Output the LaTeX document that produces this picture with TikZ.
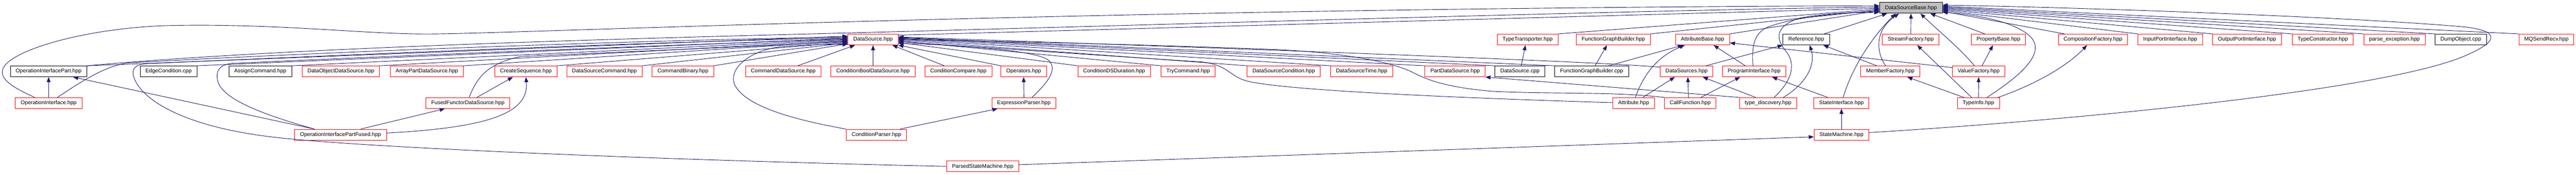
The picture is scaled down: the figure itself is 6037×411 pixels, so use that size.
\documentclass[tikz,border=0pt]{standalone}
\usepackage{fontspec}
\setmainfont{Liberation Sans}
\usetikzlibrary{calc,arrows.meta}
\definecolor{edgecol}{HTML}{191970}
\definecolor{boxred}{HTML}{FF0000}
\definecolor{dsbgray}{HTML}{BFBFBF}
\tikzset{
  box/.style={draw=boxred, line width=1.1pt, fill=white, inner xsep=12.5pt, inner ysep=0pt,
    minimum height=25.5pt, text height=9.6pt, text depth=2.7pt,
    font=\fontsize{12.8}{15}\selectfont},
  blk/.style={box, draw=black},
  root/.style={box, draw=black, fill=dsbgray},
  dep/.style={draw=edgecol, line width=1.1pt, -{Triangle[length=12pt,width=9pt]}}
}
\begin{document}
\begin{tikzpicture}[x=1pt,y=-1pt]
\fill[white] (0,0) rectangle (6037,411);
\useasboundingbox (0,0) rectangle (6037,411);
% row 0
\node[root] (dsb) at (4478.5,18.5) {DataSourceBase.hpp};
% row 1
\node[box] (dsh) at (2046,93) {DataSource.hpp};
\node[box] (tt) at (3580,93) {TypeTransporter.hpp};
\node[box] (fgbh) at (3781,93) {FunctionGraphBuilder.hpp};
\node[box] (ab) at (3990,93) {AttributeBase.hpp};
\node[blk] (ref) at (4233,93) {Reference.hpp};
\node[box] (sf) at (4478,93) {StreamFactory.hpp};
\node[box] (pb) at (4683.5,93) {PropertyBase.hpp};
\node[box] (cf) at (4905,93) {CompositionFactory.hpp};
\node[box] (ipi) at (5086,93) {InputPortInterface.hpp};
\node[box] (opi) at (5266,93) {OutputPortInterface.hpp};
\node[box] (tc) at (5443.5,93) {TypeConstructor.hpp};
\node[box] (pe) at (5611.5,93) {parse\_exception.hpp};
\node[blk] (dump) at (5767,93) {DumpObject.cpp};
\node[box] (mq) at (5967.5,93) {MQSendRecv.hpp};
% row 2
\node[blk] (oip) at (114,168) {OperationInterfacePart.hpp};
\node[blk] (ec) at (395,168) {EdgeCondition.cpp};
\node[blk] (ac) at (610,168) {AssignCommand.hpp};
\node[box] (dods) at (799,168) {DataObjectDataSource.hpp};
\node[box] (apds) at (1000.5,168) {ArrayPartDataSource.hpp};
\node[box] (cs) at (1232.5,168) {CreateSequence.hpp};
\node[box] (dsc) at (1416.5,168) {DataSourceCommand.hpp};
\node[box] (cb) at (1600.5,168) {CommandBinary.hpp};
\node[box] (cds) at (1835.5,168) {CommandDataSource.hpp};
\node[box] (cbds) at (2046,168) {ConditionBoolDataSource.hpp};
\node[box] (cc) at (2246,168) {ConditionCompare.hpp};
\node[box] (ops) at (2399,168) {Operators.hpp};
\node[box] (cdsd) at (2611,168) {ConditionDSDuration.hpp};
\node[box] (tryc) at (2784.5,168) {TryCommand.hpp};
\node[box] (dscond) at (3008.5,168) {DataSourceCondition.hpp};
\node[box] (dst) at (3191,168) {DataSourceTime.hpp};
\node[box] (pds) at (3410,168) {PartDataSource.hpp};
\node[blk] (dscpp) at (3562,168) {DataSource.cpp};
\node[blk] (fgbc) at (3730,168) {FunctionGraphBuilder.cpp};
\node[box] (dss) at (3952.5,168) {DataSources.hpp};
\node[box] (pi) at (4111,168) {ProgramInterface.hpp};
\node[box] (mf) at (4430,168) {MemberFactory.hpp};
\node[box] (vf) at (4637,168) {ValueFactory.hpp};
% row 3
\node[box] (oi) at (114,242.5) {OperationInterface.hpp};
\node[box] (ffds) at (1096.5,242.5) {FusedFunctorDataSource.hpp};
\node[box] (ep) at (2399.5,242.5) {ExpressionParser.hpp};
\node[box] (attr) at (3828.5,242.5) {Attribute.hpp};
\node[box] (call) at (3961,242.5) {CallFunction.hpp};
\node[box] (td) at (4143.5,242.5) {type\_discovery.hpp};
\node[box] (si) at (4315.5,242.5) {StateInterface.hpp};
\node[box] (ti) at (4636.5,242.5) {TypeInfo.hpp};
% row 4
\node[box] (oipf) at (798,317) {OperationInterfacePartFused.hpp};
\node[box] (cp) at (2054,317) {ConditionParser.hpp};
\node[box] (sm) at (4315.5,317) {StateMachine.hpp};
% row 5
\node[box] (psm) at (2303,391.5) {ParsedStateMachine.hpp};

% ---- edges into DataSourceBase.hpp
\draw[dep] ($(oi.north west)+(46,0)$) .. controls (40,210) and (0,190) .. (6,165) .. controls (15,120) and (200,65) .. (400,60) .. controls (650,55) and (850,80) .. (1000,80) .. controls (1200,80) and (2500,20) .. ($(dsb.west)+(0,-5)$);
\draw[dep] (oip.north east) .. controls (700,110) and (1500,90) .. (2046,76) .. controls (2800,56) and (3800,25) .. ($(dsb.west)+(0,-2)$);
\draw[dep] ($(dsh.north east)+(0,3)$) -- ($(dsb.west)+(0,1)$);
\draw[dep] (tt.north east) -- ($(dsb.west)+(0,3)$);
\draw[dep] (fgbh.north east) -- ($(dsb.west)+(0,5)$);
\draw[dep] (ab.north east) -- ($(dsb.west)+(0,6.5)$);
\draw[dep] ($(pi.north)+(-3,0)$) .. controls (4105,110) and (4110,80) .. (4140,65) .. controls (4200,40) and (4330,28) .. ($(dsb.west)+(0,8.5)$);
\draw[dep] ($(td.north)+(14,0)$) .. controls (4200,190) and (4210,150) .. (4185,120) .. controls (4160,90) and (4160,60) .. (4220,42) .. controls (4300,28) and (4360,30) .. ($(dsb.west)+(0,10.5)$);
\draw[dep] ($(ref.north east)+(-13,0)$) -- ($(dsb.south west)+(18,0)$);
\draw[dep] ($(si.north)+(4,0)$) .. controls (4340,160) and (4385,90) .. ($(dsb.south)+(-36,0)$);
\draw[dep] ($(mf.north)+(-11,0)$) .. controls (4395,120) and (4395,70) .. ($(dsb.south)+(-28,0)$);
\draw[dep] (sf.north) -- (dsb.south);
\draw[dep] ($(vf.north)+(-10,0)$) .. controls (4600,120) and (4540,70) .. ($(dsb.south)+(22,0)$);
\draw[dep] ($(pb.north)+(-32,0)$) -- ($(dsb.south)+(45,0)$);
\draw[dep] ($(ti.north)+(20,0)$) .. controls (4740,175) and (4785,130) .. (4765,95) .. controls (4740,55) and (4640,35) .. ($(dsb.south east)+(0,-3)$);
\draw[dep] ($(cf.north west)+(15,0)$) -- ($(dsb.east)+(0,8)$);
\draw[dep] (ipi.north west) -- ($(dsb.east)+(0,6)$);
\draw[dep] (opi.north west) -- ($(dsb.east)+(0,4)$);
\draw[dep] (tc.north west) -- ($(dsb.east)+(0,2)$);
\draw[dep] (pe.north west) -- (dsb.east);
\draw[dep] (dump.north west) -- ($(dsb.east)+(0,-2)$);
\draw[dep] (mq.north west) -- ($(dsb.east)+(0,-4)$);
\draw[dep] ($(sm.east)+(0,-5)$) .. controls (4900,280) and (5600,210) .. (5780,130) .. controls (5860,95) and (5860,70) .. (5760,62) .. controls (5500,40) and (4900,18) .. ($(dsb.east)+(0,-6.5)$);

% ---- edges into DataSource.hpp, west side
\draw[dep] (oip.north east) -- ($(dsh.west)+(0,-8)$);
\draw[dep] ($(oi.north east)+(-58,0)$) .. controls (200,185) and (250,155) .. (300,148) .. controls (800,120) and (1500,95) .. ($(dsh.west)+(0,-6)$);
\draw[dep] (psm.west) .. controls (1500,375) and (800,345) .. (620,320) .. controls (430,295) and (330,235) .. (313,180) .. controls (308,160) and (318,153) .. (340,150) .. controls (900,125) and (1500,100) .. ($(dsh.west)+(0,-4)$);
\draw[dep] (ec.north east) -- ($(dsh.west)+(0,-3)$);
\draw[dep] ($(oipf.north west)+(47,0)$) .. controls (600,265) and (520,230) .. (510,190) .. controls (505,165) and (515,152) .. (545,149) .. controls (1000,128) and (1600,105) .. ($(dsh.west)+(0,-1)$);
\draw[dep] (ac.north east) -- (dsh.west);
\draw[dep] (dods.north east) -- ($(dsh.west)+(0,2)$);
\draw[dep] (apds.north east) -- ($(dsh.west)+(0,3.5)$);
\draw[dep] ($(ffds.north)+(3,0)$) .. controls (1120,175) and (1150,148) .. (1220,133) .. controls (1500,120) and (1800,108) .. ($(dsh.west)+(0,5)$);
\draw[dep] (cs.north east) -- ($(dsh.west)+(0,6.5)$);
\draw[dep] (dsc.north east) -- ($(dsh.west)+(0,8)$);
\draw[dep] (cb.north east) -- ($(dsh.west)+(0,10)$);
\draw[dep] (cp.north west) .. controls (1880,285) and (1750,255) .. (1722,200) .. controls (1705,160) and (1760,118) .. (1830,110) .. controls (1900,104) and (1950,104) .. ($(dsh.west)+(0,11.5)$);
% ---- south side
\draw[dep] ($(cds.north)+(34,0)$) -- ($(dsh.south west)+(17,0)$);
\draw[dep] (cbds.north) -- (dsh.south);
\draw[dep] ($(cc.north)+(-33,0)$) -- ($(dsh.south east)+(-14,0)$);
\draw[dep] (ops.north west) -- (dsh.south east);
% ---- east side
\draw[dep] ($(ep.north)+(19,0)$) .. controls (2460,190) and (2480,160) .. (2455,140) .. controls (2420,118) and (2250,106) .. ($(dsh.east)+(0,9)$);
\draw[dep] (cdsd.north west) -- ($(dsh.east)+(0,7)$);
\draw[dep] ($(attr.west)+(0,-1)$) .. controls (3400,230) and (3000,212) .. (2920,190) .. controls (2880,178) and (2880,155) .. (2820,146) .. controls (2500,125) and (2250,108) .. ($(dsh.east)+(0,5)$);
\draw[dep] (tryc.north west) -- ($(dsh.east)+(0,3)$);
\draw[dep] (dscond.north west) -- ($(dsh.east)+(0,1)$);
\draw[dep] (call.north west) .. controls (3780,215) and (3650,222) .. (3500,215) .. controls (3380,205) and (3340,185) .. (3310,170) .. controls (3260,145) and (3150,125) .. (3000,117) .. controls (2700,105) and (2300,96) .. (dsh.east);
\draw[dep] (dst.north west) -- ($(dsh.east)+(0,-1)$);
\draw[dep] (pds.north west) -- ($(dsh.east)+(0,-2.5)$);
\draw[dep] (dscpp.north west) -- ($(dsh.east)+(0,-4)$);
\draw[dep] (fgbc.north west) -- ($(dsh.east)+(0,-5)$);
\draw[dep] ($(dss.west)+(0,-10)$) .. controls (3800,150) and (3500,135) .. ($(dsh.east)+(0,-6)$);

% ---- other edges
\draw[dep] (oi.north) -- (oip.south);
\draw[dep] ($(oipf.north west)+(47,0)$) -- ($(oip.south east)+(-33,0)$);
\draw[dep] ($(oipf.north)+(47,0)$) -- ($(ffds.south)+(-54,0)$);
\draw[dep] ($(oipf.east)+(0,-4)$) .. controls (1150,300) and (1240,265) .. (cs.south);
\draw[dep] ($(ffds.north)+(21,0)$) -- ($(cs.south west)+(43,0)$);
\draw[dep] ($(cp.north east)+(-16,0)$) -- ($(ep.south west)+(14,0)$);
\draw[dep] (ep.north) -- (ops.south);
\draw[dep] ($(psm.east)+(0,-4)$) -- ($(sm.west)+(0,5)$);
\draw[dep] (sm.north) -- (si.south);
\draw[dep] ($(si.north)+(-32,0)$) -- ($(pi.south east)+(-33,0)$);
\draw[dep] ($(td.north)+(-29,0)$) -- ($(dss.south)+(38,0)$);
\draw[dep] (td.north west) -- (pds.south east);
\draw[dep] ($(td.north east)+(-32,0)$) .. controls (4236,195) and (4255,150) .. ($(ref.south)+(8,0)$);
\draw[dep] ($(call.north)+(-4,0)$) -- ($(dss.south)+(3,0)$);
\draw[dep] ($(call.north east)+(-36,0)$) -- ($(pi.south west)+(42,0)$);
\draw[dep] ($(attr.north east)+(-28,0)$) -- ($(dss.south west)+(35,0)$);
\draw[dep] ($(attr.north)+(4,0)$) .. controls (3850,180) and (3880,135) .. ($(ab.south west)+(22,0)$);
\draw[dep] ($(dss.north east)+(-17,0)$) -- (ref.south west);
\draw[dep] ($(pi.north west)+(54,0)$) -- ($(ab.south east)+(-38,0)$);
\draw[dep] ($(fgbc.north)+(8,0)$) -- ($(fgbh.south)+(-15,0)$);
\draw[dep] ($(fgbc.north)+(40,0)$) -- ($(ab.south west)+(18,0)$);
\draw[dep] ($(dscpp.north)+(3,0)$) -- ($(tt.south)+(-5,0)$);
\draw[dep] ($(mf.north)+(-32,0)$) -- ($(ref.south east)+(-15,0)$);
\draw[dep] ($(vf.north)+(8,0)$) -- ($(pb.south)+(-13,0)$);
\draw[dep] ($(vf.west)+(0,-9)$) -- ($(ab.east)+(0,8)$);
\draw[dep] ($(ti.north west)+(16,0)$) -- ($(mf.south east)+(-30,0)$);
\draw[dep] ($(ti.north)+(-16,0)$) -- ($(sf.south)+(15,0)$);
\draw[dep] (ti.north) -- (vf.south);
\draw[dep] ($(ti.north east)+(-4,0)$) .. controls (4780,195) and (4850,150) .. ($(cf.south)+(-14,0)$);
\end{tikzpicture}
\end{document}
